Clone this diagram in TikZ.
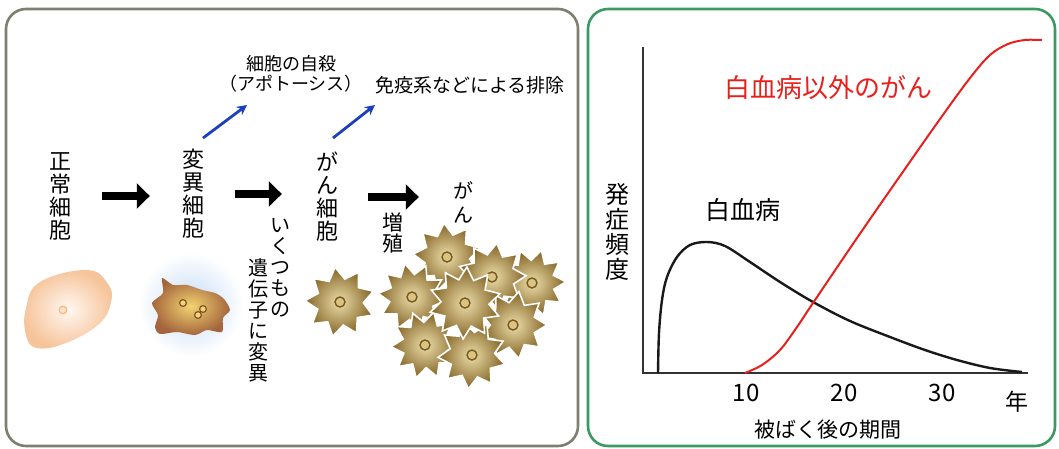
\documentclass[tikz,border=0pt]{standalone}
\usepackage{fontspec}
\setmainfont{Noto Sans CJK JP}
\usetikzlibrary{arrows.meta,shapes.geometric}

\definecolor{rahmengrau}{RGB}{125,128,112}
\definecolor{rahmengruen}{RGB}{59,154,98}
\definecolor{pfeilblau}{RGB}{27,63,191}
\definecolor{kurvenrot}{RGB}{232,32,28}
\definecolor{hautaussen}{RGB}{246,196,154}
\definecolor{hautinnen}{RGB}{255,248,242}
\definecolor{mutaussen}{RGB}{164,101,61}
\definecolor{mutinnen}{RGB}{242,212,112}
\definecolor{schein}{RGB}{196,218,246}
\definecolor{krebsaussen}{RGB}{132,100,38}
\definecolor{krebsinnen}{RGB}{236,222,170}
\definecolor{kernrand}{RGB}{120,88,34}
\definecolor{kernfuell}{RGB}{218,196,128}

\tikzset{
	tate/.style={align=center, inner sep=0pt},
	dickpfeil/.style={line width=8pt, -{Triangle[length=13pt,width=25pt]}},
	blaupfeil/.style={pfeilblau, line width=2.8pt, -{Stealth[length=10pt,width=10pt]}},
	krebszelle/.style={star, star point ratio=1.5, minimum size=68pt, inner sep=0pt,
		shading=radial, inner color=krebsinnen, outer color=krebsaussen,
		draw=white, line width=1.6pt},
	kern/.style={draw=kernrand, fill=kernfuell, line width=1.4pt},
	panel/.style={rounded corners=20pt, line width=2.6pt},
}

\begin{document}
\begin{tikzpicture}[x=1pt,y=-1pt]
		\useasboundingbox (0,0) rectangle (1059,449);

		% Rahmen der beiden Teilbilder
		\draw[panel, rahmengrau]  (6,9) rectangle (578,446);
		\draw[panel, rahmengruen] (588,9) rectangle (1055,446);

		% Stufen von der normalen Zelle zur Krebsgeschwulst
		\node[tate, font=\fontsize{22}{23}\selectfont] (seijou) at (60,196) {正\\常\\細\\胞};
		\node[tate, font=\fontsize{22}{23}\selectfont] (heni)   at (193,194) {変\\異\\細\\胞};
		\node[tate, font=\fontsize{22}{23}\selectfont] (gansai) at (327,197) {が\\ん\\細\\胞};
		\node[tate, font=\fontsize{20}{24}\selectfont] (gan)    at (463,202) {が\\ん};
		\node[tate, font=\fontsize{21}{21}\selectfont] (zoshoku) at (393,233) {増\\殖};
		\node[tate, font=\fontsize{20}{21}\selectfont] (ikutsu) at (280,268) {い\\く\\つ\\も\\の};
		\node[tate, font=\fontsize{20}{21}\selectfont] (iden)   at (258,320) {遺\\伝\\子\\に\\変\\異};

		\draw[dickpfeil, shorten <=31pt, shorten >=32pt] (seijou.east) -- (seijou.east -| heni.west);
		\draw[dickpfeil, shorten <=31pt, shorten >=34pt] (heni.east) -- (heni.east -| gansai.west);
		\draw[dickpfeil, shorten <=30pt, shorten >=34pt] (gansai.east) -- (gansai.east -| gan.west);

		% Abzweige nach oben
		\node[align=center, inner sep=0pt, font=\fontsize{18}{20}\selectfont] (apoptose) at (291,74) {細胞の自殺\\（アポトーシス）};
		\node[anchor=west, inner sep=0pt, font=\fontsize{19}{20}\selectfont] (immun) at (375,85) {免疫系などによる排除};
		\coordinate (b1a) at (203,138);
		\coordinate (b1b) at (247,105);
		\coordinate (b2a) at (333,138);
		\coordinate (b2b) at (375,105);
		\draw[blaupfeil] (b1a) -- (b1b);
		\draw[blaupfeil] (b2a) -- (b2b);

		% normale Zelle
		\shade[inner color=hautinnen, outer color=hautaussen]
			plot[smooth cycle, tension=0.7] coordinates {(40,282) (87,270) (108,284) (111,302) (99,324) (66,343) (37,348) (26,335) (26,308)};
		\draw[draw=hautaussen!80!orange, fill=hautinnen!60!hautaussen, line width=1.2pt] (63,310) circle[radius=3.8pt];

		% veraenderte Zelle mit blauem Schein
		\shade[inner color=schein, outer color=white] (191,305) circle[radius=52pt];
		\shade[inner color=mutinnen, outer color=mutaussen]
			plot[smooth cycle, tension=0.45] coordinates {(162,278) (173,285) (187,285) (202,290) (215,293) (224,299) (230,310) (223,318) (222,332) (207,330) (195,335) (177,332) (160,334) (155,327) (158,315) (152,303) (163,293)};
		\draw[draw=mutaussen!80!black, fill=mutinnen, line width=1.2pt] (183,303) circle[radius=3.4pt];
		\draw[draw=mutaussen!80!black, fill=mutinnen, line width=1.2pt] (203,309) circle[radius=3.4pt];
		\draw[draw=mutaussen!80!black, fill=mutinnen, line width=1.2pt] (198,315) circle[radius=3.4pt];

		% einzelne Krebszelle
		\node[krebszelle, star points=9, minimum size=70pt, rotate=8] (z0) at (340,302) {};
		\draw[kern] (z0) circle[radius=5pt];

		% Haufen aus Krebszellen (hinten zuerst)
		\node[krebszelle, star points=9, rotate=5]   (z1) at (447,257) {};
		\draw[kern] (z1) circle[radius=5pt];
		\node[krebszelle, star points=10, rotate=20] (z2) at (532,283) {};
		\draw[kern] (z2) circle[radius=5pt];
		\node[krebszelle, star points=9, rotate=-8]  (z3) at (492,277) {};
		\draw[kern] (z3) circle[radius=5pt];
		\node[krebszelle, star points=10, rotate=12] (z4) at (412,297) {};
		\draw[kern] (z4) circle[radius=5pt];
		\node[krebszelle, star points=9, rotate=30]  (z5) at (513,325) {};
		\draw[kern] (z5) circle[radius=5pt];
		\node[krebszelle, star points=10, rotate=-15] (z6) at (425,345) {};
		\draw[kern] (z6) circle[radius=5pt];
		\node[krebszelle, star points=9, rotate=14]  (z7) at (472,355) {};
		\draw[kern] (z7) circle[radius=5pt];
		\node[krebszelle, star points=10, minimum size=72pt, rotate=-3] (z8) at (465,303) {};
		\draw[kern] (z8) circle[radius=5pt];

		% Diagramm: Achsen
		\coordinate (ursprung) at (643,373);
		\draw[line width=1.6pt, black!80] (643,47) -- (ursprung) -- (1028,373);

		% Kurve Leukaemie
		\draw[line width=2.4pt, black!90] plot[smooth, tension=0.55] coordinates {(658,373) (659,333) (662,300) (667,277) (677,257) (690,245) (707,242) (725,246) (750,262) (780,282) (813,302) (850,321) (890,337) (925,350) (957,360) (990,368) (1022,372)};
		% Kurve andere Krebsarten
		\draw[line width=2pt, kurvenrot] plot[smooth, tension=0.55] coordinates {(745,373) (762,365) (780,350) (797,327) (813,303) (857,238) (900,176) (940,119) (970,78) (990,55) (1008,44) (1025,40) (1042,40)};

		% Beschriftungen
		\node[tate, font=\fontsize{24}{25}\selectfont] (hassho) at (617,232) {発\\症\\頻\\度};
		\node[font=\fontsize{25}{26}\selectfont] (hakketsu) at (743,210) {白血病};
		\node[font=\fontsize{26}{27}\selectfont, text=kurvenrot] (igai) at (828,88) {白血病以外のがん};
		\node[font=\fontsize{24}{25}\selectfont] (t10) at (746,393) {10};
		\node[font=\fontsize{24}{25}\selectfont] (t20) at (844,393) {20};
		\node[font=\fontsize{24}{25}\selectfont] (t30) at (942,393) {30};
		\node[font=\fontsize{23}{24}\selectfont] (nen) at (1017,402) {年};
		\node[font=\fontsize{21}{22}\selectfont] (kikan) at (828,430) {被ばく後の期間};
	\end{tikzpicture}
\end{document}
